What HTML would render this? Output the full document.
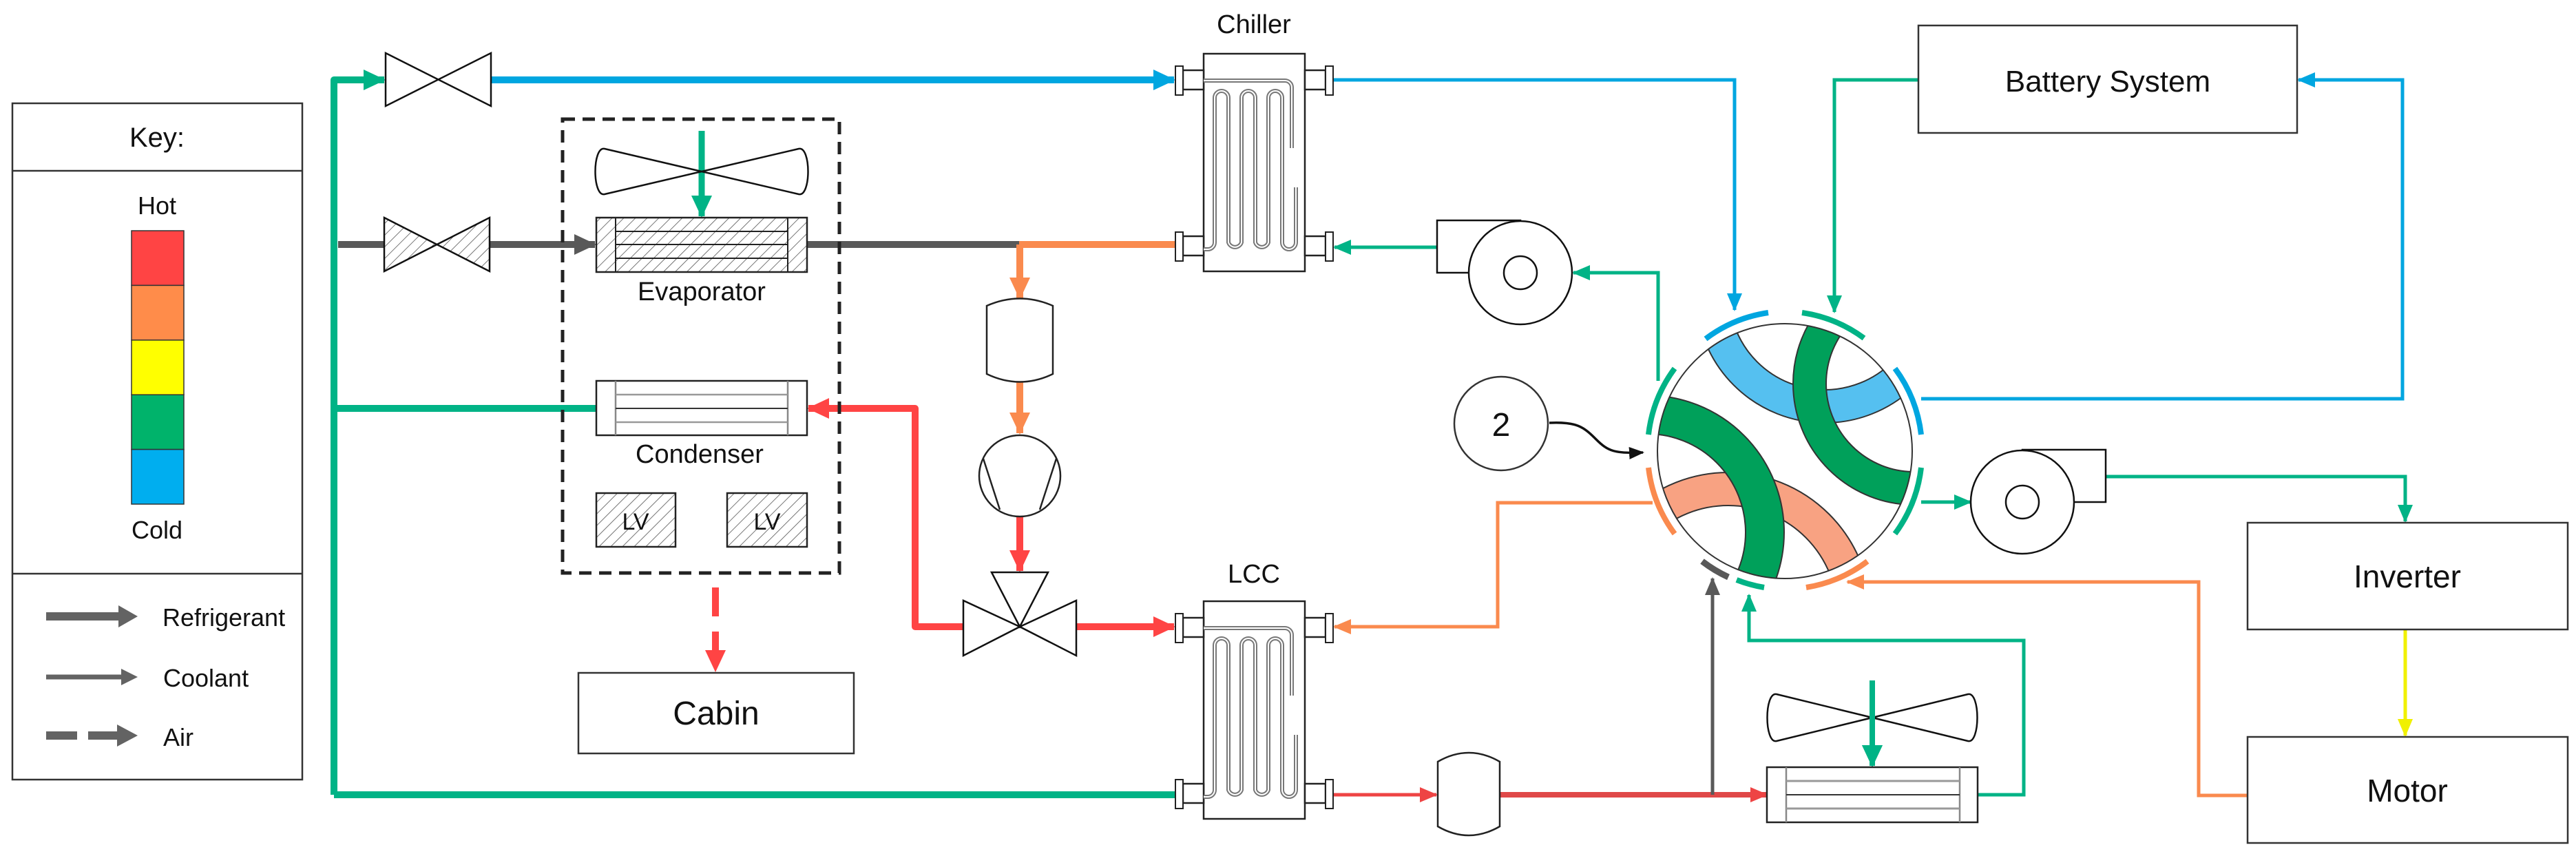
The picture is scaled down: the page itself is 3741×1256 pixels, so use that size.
<!DOCTYPE html>
<html><head><meta charset="utf-8"><style>
html,body{margin:0;padding:0;background:#fff}
svg{display:block}
text{font-family:"Liberation Sans",sans-serif;fill:#111}
</style></head><body>
<svg width="3741" height="1256" viewBox="0 0 3741 1256" xmlns="http://www.w3.org/2000/svg">
<defs>
<pattern id="hatch" width="12" height="12" patternUnits="userSpaceOnUse" patternTransform="rotate(45)">
<rect width="12" height="12" fill="#fff"/><line x1="0" y1="0" x2="0" y2="12" stroke="#555" stroke-width="1.6"/></pattern>
<marker id="mg" markerUnits="userSpaceOnUse" markerWidth="26" markerHeight="26" refX="24" refY="13" orient="auto"><path d="M0,2 L26,13 L0,24 Z" fill="#00B386"/></marker>
<marker id="mgL" markerUnits="userSpaceOnUse" markerWidth="32" markerHeight="32" refX="30" refY="16" orient="auto"><path d="M0,1 L32,16 L0,31 Z" fill="#00B386"/></marker>
<marker id="mb" markerUnits="userSpaceOnUse" markerWidth="26" markerHeight="26" refX="24" refY="13" orient="auto"><path d="M0,2 L26,13 L0,24 Z" fill="#00A6E0"/></marker>
<marker id="mbL" markerUnits="userSpaceOnUse" markerWidth="32" markerHeight="32" refX="30" refY="16" orient="auto"><path d="M0,1 L32,16 L0,31 Z" fill="#00A6E0"/></marker>
<marker id="mo" markerUnits="userSpaceOnUse" markerWidth="26" markerHeight="26" refX="24" refY="13" orient="auto"><path d="M0,2 L26,13 L0,24 Z" fill="#FA8A4E"/></marker>
<marker id="moL" markerUnits="userSpaceOnUse" markerWidth="32" markerHeight="32" refX="30" refY="16" orient="auto"><path d="M0,1 L32,16 L0,31 Z" fill="#FA8A4E"/></marker>
<marker id="mr" markerUnits="userSpaceOnUse" markerWidth="26" markerHeight="26" refX="24" refY="13" orient="auto"><path d="M0,2 L26,13 L0,24 Z" fill="#EE4444"/></marker>
<marker id="mrL" markerUnits="userSpaceOnUse" markerWidth="32" markerHeight="32" refX="30" refY="16" orient="auto"><path d="M0,1 L32,16 L0,31 Z" fill="#FF4444"/></marker>
<marker id="mk" markerUnits="userSpaceOnUse" markerWidth="26" markerHeight="26" refX="24" refY="13" orient="auto"><path d="M0,2 L26,13 L0,24 Z" fill="#595959"/></marker>
<marker id="mkL" markerUnits="userSpaceOnUse" markerWidth="32" markerHeight="32" refX="30" refY="16" orient="auto"><path d="M0,1 L32,16 L0,31 Z" fill="#595959"/></marker>
<marker id="my" markerUnits="userSpaceOnUse" markerWidth="26" markerHeight="26" refX="24" refY="13" orient="auto"><path d="M0,2 L26,13 L0,24 Z" fill="#F0F000"/></marker>
<marker id="mbk" markerUnits="userSpaceOnUse" markerWidth="22" markerHeight="22" refX="20" refY="11" orient="auto"><path d="M0,2 L22,11 L0,20 Z" fill="#111"/></marker>
<clipPath id="vc"><circle cx="2592" cy="655" r="185"/></clipPath>
</defs>

<!-- KEY -->
<rect x="18" y="150" width="421" height="982" fill="#fff" stroke="#333" stroke-width="2.5"/>
<line x1="18" y1="248" x2="439" y2="248" stroke="#333" stroke-width="2.5"/>
<line x1="18" y1="833" x2="439" y2="833" stroke="#333" stroke-width="2.5"/>
<text x="228" y="213" font-size="40" text-anchor="middle">Key:</text>
<text x="228" y="311" font-size="36" text-anchor="middle">Hot</text>
<rect x="191" y="335" width="76" height="79.4" fill="#FF4444" stroke="#333" stroke-width="1.5"/>
<rect x="191" y="414.4" width="76" height="79.4" fill="#FF8C4A" stroke="#333" stroke-width="1.5"/>
<rect x="191" y="493.8" width="76" height="79.4" fill="#FFFF00" stroke="#333" stroke-width="1.5"/>
<rect x="191" y="573.2" width="76" height="79.4" fill="#00B36B" stroke="#333" stroke-width="1.5"/>
<rect x="191" y="652.6" width="76" height="79.4" fill="#00AEEF" stroke="#333" stroke-width="1.5"/>
<text x="228" y="782" font-size="36" text-anchor="middle">Cold</text>
<line x1="67" y1="895" x2="178" y2="895" stroke="#636363" stroke-width="12"/>
<path d="M172,879 L200,895 L172,911 Z" fill="#636363"/>
<text x="236" y="909" font-size="36">Refrigerant</text>
<line x1="67" y1="983" x2="180" y2="983" stroke="#636363" stroke-width="7"/>
<path d="M176,971 L200,983 L176,995 Z" fill="#636363"/>
<text x="237" y="997" font-size="36">Coolant</text>
<line x1="67" y1="1068" x2="112" y2="1068" stroke="#636363" stroke-width="12"/>
<line x1="128" y1="1068" x2="178" y2="1068" stroke="#636363" stroke-width="12"/>
<path d="M170,1052 L200,1068 L170,1084 Z" fill="#636363"/>
<text x="237" y="1083" font-size="36">Air</text>

<!-- THICK LINES -->
<path d="M485,1154 V116 H558" fill="none" stroke="#00B386" stroke-width="10" stroke-linejoin="round" marker-end="url(#mgL)"/>
<path d="M485,593 H866" fill="none" stroke="#00B386" stroke-width="10"/>
<path d="M485,1154 H1707" fill="none" stroke="#00B386" stroke-width="10"/>
<path d="M713,116 H1705" fill="none" stroke="#00A6E0" stroke-width="10" marker-end="url(#mbL)"/>
<path d="M491,355 H558" fill="none" stroke="#595959" stroke-width="10"/>
<path d="M711,355 H864" fill="none" stroke="#595959" stroke-width="10" marker-end="url(#mkL)"/>
<path d="M1171,355 H1482" fill="none" stroke="#595959" stroke-width="10"/>
<path d="M1480,355 H1707" fill="none" stroke="#FA8A4E" stroke-width="10"/>
<path d="M1481,355 V433" fill="none" stroke="#FA8A4E" stroke-width="10" marker-end="url(#moL)"/>
<path d="M1481,555 V629" fill="none" stroke="#FA8A4E" stroke-width="10" marker-end="url(#moL)"/>
<path d="M1481,751 V829" fill="none" stroke="#FF4444" stroke-width="10" marker-end="url(#mrL)"/>
<path d="M1400,910 H1329 V593 H1174" fill="none" stroke="#FF4444" stroke-width="10" stroke-linejoin="round" marker-end="url(#mrL)"/>
<path d="M1562,910 H1705" fill="none" stroke="#FF4444" stroke-width="10" marker-end="url(#mrL)"/>
<path d="M1039,853 V974" fill="none" stroke="#FF4444" stroke-width="10" stroke-dasharray="42 22" marker-end="url(#mrL)"/>
<path d="M1019,190 V314" fill="none" stroke="#00B386" stroke-width="9" marker-end="url(#mgL)"/>

<!-- THIN LINES -->
<path d="M1936,116 H2519 V450" fill="none" stroke="#00A6E0" stroke-width="5" marker-end="url(#mb)"/>
<path d="M2786,116 H2664 V453" fill="none" stroke="#00B386" stroke-width="5" marker-end="url(#mg)"/>
<path d="M2790,579 H3489 V116 H3338" fill="none" stroke="#00A6E0" stroke-width="5" marker-end="url(#mb)"/>
<path d="M2087,359 H1938" fill="none" stroke="#00B386" stroke-width="5" marker-end="url(#mg)"/>
<path d="M2408,553 V396 H2285" fill="none" stroke="#00B386" stroke-width="5" marker-end="url(#mg)"/>
<path d="M2790,729 H2862" fill="none" stroke="#00B386" stroke-width="5" marker-end="url(#mg)"/>
<path d="M3058,692 H3493 V757" fill="none" stroke="#00B386" stroke-width="5" marker-end="url(#mg)"/>
<path d="M3493,914 V1068" fill="none" stroke="#F0F000" stroke-width="5" marker-end="url(#my)"/>
<path d="M3264,1155 H3193 V845 H2683" fill="none" stroke="#FA8A4E" stroke-width="5" marker-end="url(#mo)"/>
<path d="M2400,730 H2175 V910 H1938" fill="none" stroke="#FA8A4E" stroke-width="5" marker-end="url(#mo)"/>
<path d="M1936,1154 H2086" fill="none" stroke="#EE4444" stroke-width="5" marker-end="url(#mr)"/>
<path d="M2178,1154 H2566" fill="none" stroke="#E04848" stroke-width="8" marker-end="url(#mr)"/>
<path d="M2487,1154 V840" fill="none" stroke="#595959" stroke-width="5" marker-end="url(#mk)"/>
<path d="M2872,1154 H2939 V930 H2540 V864" fill="none" stroke="#00B386" stroke-width="5" marker-end="url(#mg)"/>
<path d="M2719,988 V1112" fill="none" stroke="#00B386" stroke-width="8" marker-end="url(#mgL)"/>
<path d="M2250,614 C2290,612 2300,620 2318,638 C2335,655 2345,659 2386,657" fill="none" stroke="#111" stroke-width="3.5" marker-end="url(#mbk)"/>

<!-- VALVES -->
<path d="M560,77 L713,154 L713,77 L560,154 Z" fill="#fff" stroke="#111" stroke-width="2.5" stroke-linejoin="miter"/>
<path d="M558,316 L711,394 L711,316 L558,394 Z" fill="url(#hatch)" stroke="#111" stroke-width="2.5"/>

<!-- Dashed box -->
<rect x="817" y="173" width="402" height="659" fill="none" stroke="#222" stroke-width="5" stroke-dasharray="18 11"/>
<!-- Fan evap -->
<path d="M1019,249 L878,216 C860,212 860,286 878,282 Z M1019,249 L1160,216 C1178,212 1178,286 1160,282 Z" fill="none" stroke="#111" stroke-width="2.5"/>
<!-- Evaporator -->
<rect x="866" y="316" width="306" height="79" fill="url(#hatch)" stroke="#222" stroke-width="2.5"/>
<line x1="894" y1="316" x2="894" y2="395" stroke="#222" stroke-width="2"/>
<line x1="1144" y1="316" x2="1144" y2="395" stroke="#222" stroke-width="2"/>
<line x1="894" y1="336" x2="1144" y2="336" stroke="#222" stroke-width="2"/>
<line x1="894" y1="355" x2="1144" y2="355" stroke="#222" stroke-width="2"/>
<line x1="894" y1="375" x2="1144" y2="375" stroke="#222" stroke-width="2"/>
<text x="1019" y="436" font-size="38" text-anchor="middle">Evaporator</text>
<!-- Condenser -->
<rect x="866" y="553" width="306" height="79" fill="#fff" stroke="#222" stroke-width="2.5"/>
<line x1="894" y1="553" x2="894" y2="632" stroke="#888" stroke-width="2.5"/>
<line x1="1144" y1="553" x2="1144" y2="632" stroke="#888" stroke-width="2.5"/>
<line x1="894" y1="573" x2="1144" y2="573" stroke="#999" stroke-width="2.5"/>
<line x1="894" y1="593" x2="1144" y2="593" stroke="#333" stroke-width="2"/>
<line x1="894" y1="613" x2="1144" y2="613" stroke="#999" stroke-width="2.5"/>
<text x="1016" y="672" font-size="38" text-anchor="middle">Condenser</text>
<rect x="866" y="716" width="115" height="78" fill="url(#hatch)" stroke="#222" stroke-width="2.5"/>
<rect x="1056" y="716" width="116" height="78" fill="url(#hatch)" stroke="#222" stroke-width="2.5"/>
<text x="923" y="769" font-size="34" text-anchor="middle">LV</text>
<text x="1114" y="769" font-size="34" text-anchor="middle">LV</text>
<!-- Cabin -->
<rect x="840" y="977" width="400" height="117" fill="#fff" stroke="#333" stroke-width="2.5"/>
<text x="1040" y="1052" font-size="48" text-anchor="middle">Cabin</text>

<!-- Chiller -->
<text x="1821" y="48" font-size="38" text-anchor="middle">Chiller</text>
<g id="hx">
<rect x="1748" y="78" width="147" height="316" fill="#fff" stroke="#222" stroke-width="2.5"/>
<rect x="1718" y="102" width="30" height="28" fill="#fff" stroke="#222" stroke-width="2.5"/>
<rect x="1707" y="96" width="11" height="42" fill="#fff" stroke="#222" stroke-width="2"/>
<rect x="1718" y="343" width="30" height="28" fill="#fff" stroke="#222" stroke-width="2.5"/>
<rect x="1707" y="337" width="11" height="42" fill="#fff" stroke="#222" stroke-width="2"/>
<rect x="1895" y="102" width="30" height="28" fill="#fff" stroke="#222" stroke-width="2.5"/>
<rect x="1925" y="96" width="11" height="42" fill="#fff" stroke="#222" stroke-width="2"/>
<rect x="1895" y="343" width="30" height="28" fill="#fff" stroke="#222" stroke-width="2.5"/>
<rect x="1925" y="337" width="11" height="42" fill="#fff" stroke="#222" stroke-width="2"/>
<path d="M1748,117 H1866 A10,10 0 0 1 1876,127 V215 M1882,272 V352 A10,10 0 0 1 1862,352 V142 A10,10 0 0 0 1842,142 V352 A10,10 0 0 1 1823,352 V142 A10,10 0 0 0 1803,142 V352 A10,10 0 0 1 1784,352 V142 A10,10 0 0 0 1764,142 V352 A10,10 0 0 1 1754,362 H1748" fill="none" stroke="#777" stroke-width="6"/>
<path d="M1748,117 H1866 A10,10 0 0 1 1876,127 V215 M1882,272 V352 A10,10 0 0 1 1862,352 V142 A10,10 0 0 0 1842,142 V352 A10,10 0 0 1 1823,352 V142 A10,10 0 0 0 1803,142 V352 A10,10 0 0 1 1784,352 V142 A10,10 0 0 0 1764,142 V352 A10,10 0 0 1 1754,362 H1748" fill="none" stroke="#fff" stroke-width="2"/>
</g>
<!-- LCC -->
<text x="1821" y="846" font-size="38" text-anchor="middle">LCC</text>
<use href="#hx" transform="translate(0,795)"/>

<!-- Accumulator 1 -->
<path d="M1433,444 Q1481,423 1529,444 V543 Q1481,566 1433,543 Z" fill="#fff" stroke="#222" stroke-width="2.5"/>
<!-- Compressor -->
<circle cx="1481" cy="691" r="59" fill="#fff" stroke="#222" stroke-width="2.5"/>
<path d="M1428,666 L1452,740 M1534,666 L1510,740" stroke="#222" stroke-width="2.5"/>
<!-- 3-way valve -->
<path d="M1440,831 L1522,831 L1481,910 Z M1399,872 L1399,952 L1481,910 Z M1563,872 L1563,952 L1481,910 Z" fill="#fff" stroke="#111" stroke-width="2.5" stroke-linejoin="miter"/>

<!-- Accumulator 2 -->
<path d="M2088,1106 Q2133,1080 2178,1106 V1200 Q2133,1226 2088,1200 Z" fill="#fff" stroke="#222" stroke-width="2.5"/>

<!-- Pump 1 -->
<rect x="2087" y="320" width="121" height="76" fill="#fff" stroke="#111" stroke-width="2.5"/>
<circle cx="2208" cy="396" r="75" fill="#fff" stroke="#111" stroke-width="2.5"/>
<circle cx="2208" cy="396" r="24" fill="#fff" stroke="#111" stroke-width="2.5"/>
<!-- Pump 2 -->
<rect x="2937" y="653" width="121" height="76" fill="#fff" stroke="#111" stroke-width="2.5"/>
<circle cx="2937" cy="729" r="75" fill="#fff" stroke="#111" stroke-width="2.5"/>
<circle cx="2937" cy="729" r="24" fill="#fff" stroke="#111" stroke-width="2.5"/>

<!-- "2" -->
<circle cx="2180" cy="615" r="68" fill="#fff" stroke="#333" stroke-width="2.5"/>
<text x="2180" y="633" font-size="48" text-anchor="middle">2</text>

<!-- Radiator fan -->
<path d="M2719,1042 L2580,1008 C2562,1004 2562,1080 2580,1076 Z M2719,1042 L2858,1008 C2876,1004 2876,1080 2858,1076 Z" fill="none" stroke="#111" stroke-width="2.5"/>
<path d="M2719,988 V1112" fill="none" stroke="#00B386" stroke-width="8" marker-end="url(#mgL)"/>
<!-- Radiator -->
<rect x="2566" y="1114" width="306" height="80" fill="#fff" stroke="#222" stroke-width="2.5"/>
<line x1="2594" y1="1114" x2="2594" y2="1194" stroke="#888" stroke-width="2.5"/>
<line x1="2846" y1="1114" x2="2846" y2="1194" stroke="#888" stroke-width="2.5"/>
<line x1="2594" y1="1134" x2="2846" y2="1134" stroke="#999" stroke-width="3"/>
<line x1="2594" y1="1154" x2="2846" y2="1154" stroke="#333" stroke-width="2"/>
<line x1="2594" y1="1174" x2="2846" y2="1174" stroke="#999" stroke-width="3"/>

<!-- Battery / Inverter / Motor -->
<rect x="2786" y="37" width="550" height="156" fill="#fff" stroke="#333" stroke-width="2.5"/>
<text x="3061" y="133" font-size="44" text-anchor="middle">Battery System</text>
<rect x="3264" y="759" width="465" height="155" fill="#fff" stroke="#333" stroke-width="2.5"/>
<text x="3496" y="853" font-size="46" text-anchor="middle">Inverter</text>
<rect x="3264" y="1070" width="465" height="154" fill="#fff" stroke="#333" stroke-width="2.5"/>
<text x="3496" y="1164" font-size="46" text-anchor="middle">Motor</text>

<!-- Rotary valve -->
<circle cx="2592" cy="655" r="185" fill="#fff"/>
<g clip-path="url(#vc)">
<circle cx="2650" cy="427" r="163" fill="none" stroke="#333" stroke-width="50"/>
<circle cx="2650" cy="427" r="163" fill="none" stroke="#55C0F0" stroke-width="46"/>
<circle cx="2780" cy="557" r="152" fill="none" stroke="#333" stroke-width="50"/>
<circle cx="2780" cy="557" r="152" fill="none" stroke="#00A05A" stroke-width="46"/>
<circle cx="2510" cy="893" r="183" fill="none" stroke="#333" stroke-width="50"/>
<circle cx="2510" cy="893" r="183" fill="none" stroke="#F8A282" stroke-width="46"/>
<circle cx="2392" cy="773" r="171" fill="none" stroke="#333" stroke-width="58"/>
<circle cx="2392" cy="773" r="171" fill="none" stroke="#00A05A" stroke-width="54"/>
</g>
<circle cx="2592" cy="655" r="185" fill="none" stroke="#333" stroke-width="2"/>
<!-- ports (r=200) -->
<path d="M2477,492 A200,200 0 0 1 2568,454" fill="none" stroke="#00A6E0" stroke-width="8"/>
<path d="M2617,454 A200,200 0 0 1 2707,491" fill="none" stroke="#00B386" stroke-width="8"/>
<path d="M2752,535 A200,200 0 0 1 2790,631" fill="none" stroke="#00A6E0" stroke-width="8"/>
<path d="M2790,679 A200,200 0 0 1 2752,775" fill="none" stroke="#00B386" stroke-width="8"/>
<path d="M2712,815 A200,200 0 0 1 2623,853" fill="none" stroke="#FA8A4E" stroke-width="8"/>
<path d="M2562,853 A200,200 0 0 1 2522,842" fill="none" stroke="#00B386" stroke-width="8"/>
<path d="M2510,838 A200,200 0 0 1 2472,815" fill="none" stroke="#595959" stroke-width="9"/>
<path d="M2432,775 A200,200 0 0 1 2394,679" fill="none" stroke="#FA8A4E" stroke-width="8"/>
<path d="M2394,631 A200,200 0 0 1 2432,535" fill="none" stroke="#00B386" stroke-width="8"/>
</svg>
</body></html>
